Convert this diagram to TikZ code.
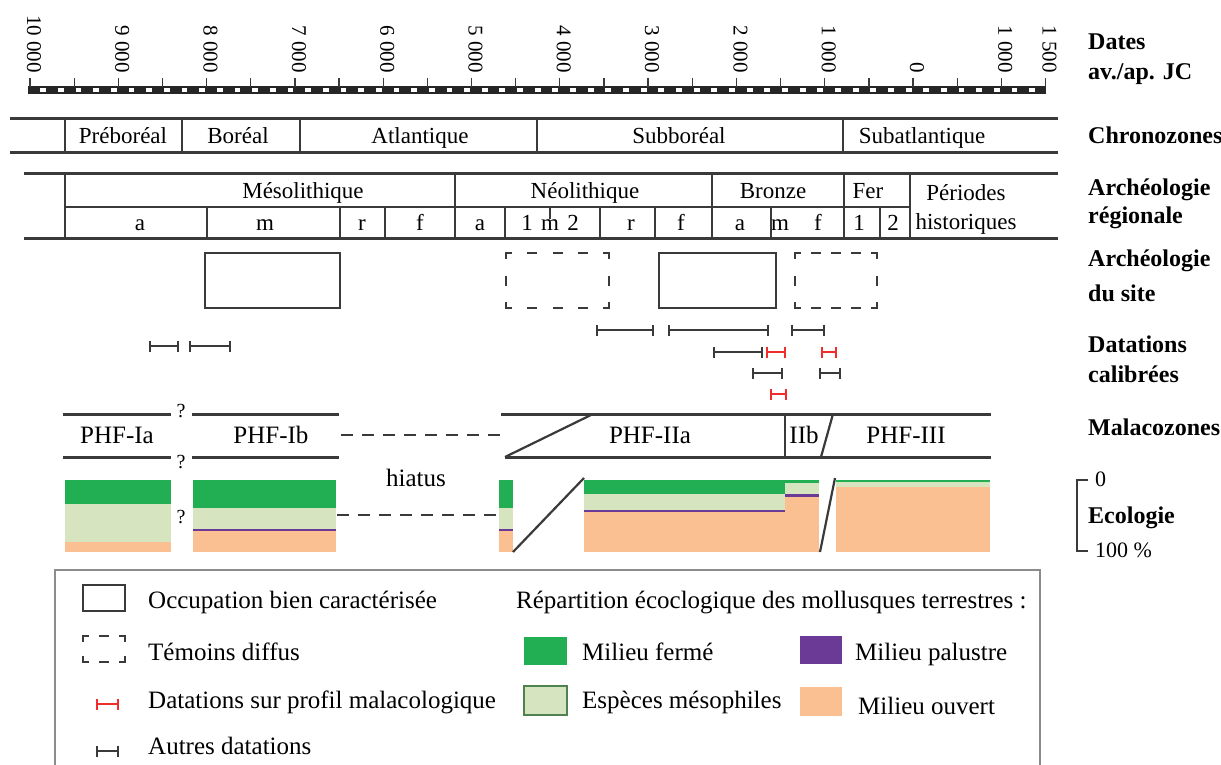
\documentclass[tikz,border=0pt]{standalone}
\usepackage{fontspec}
\setmainfont{Liberation Serif}
\definecolor{ln}{RGB}{58,58,58}
\definecolor{gF}{RGB}{34,174,82}
\definecolor{gL}{RGB}{214,229,192}
\definecolor{gB}{RGB}{80,130,80}
\definecolor{pP}{RGB}{106,58,150}
\definecolor{oO}{RGB}{250,192,145}
\definecolor{rD}{RGB}{240,45,45}
\tikzset{
  tl/.style={draw=ln, line width=3pt},
  vl/.style={draw=ln, line width=2.2pt},
  thinl/.style={draw=ln, line width=1.1pt},
  boxline/.style={draw=ln, line width=2.9pt},
  dashl/.style={draw=ln, line width=2.8pt, dash pattern=on 12pt off 9pt},
  rowtxt/.style={font=\fontsize{23}{23}\selectfont, anchor=base, inner sep=0pt},
  maltxt/.style={font=\fontsize{25}{25}\selectfont, anchor=base, inner sep=0pt},
  legtxt/.style={font=\fontsize{25}{25}\selectfont, anchor=base west, inner sep=0pt},
  lab/.style={font=\bfseries\fontsize{24}{24}\selectfont, anchor=base west, inner sep=0pt},
  scl/.style={font=\fontsize{21}{21}\selectfont, rotate=-90, anchor=east, inner sep=0pt},
  qm/.style={font=\fontsize{20}{20}\selectfont, anchor=base, inner sep=0pt},
  datk/.style={draw=ln, line width=2.8pt},
  datr/.style={draw=rD, line width=2.8pt},
}
\newcommand\datbar[4]{%
  \draw[#4] (#1,#3) -- (#2,#3);
  \draw[#4] (#1,#3-5.5) -- (#1,#3+5.5);
  \draw[#4] (#2,#3-5.5) -- (#2,#3+5.5);}
\newcommand\dbox[6]{%
  \draw[boxline] (#1,#2+6) -- (#1,#2) -- (#1+6,#2);
  \draw[boxline] (#3-6,#2) -- (#3,#2) -- (#3,#2+6);
  \draw[boxline] (#3,#4-6) -- (#3,#4) -- (#3-6,#4);
  \draw[boxline] (#1+6,#4) -- (#1,#4) -- (#1,#4-6);
  \pgfmathsetmacro\gh{(#3-#1-12-#5*10)/(#5+1)}
  \foreach \i in {1,...,#5}{%
    \pgfmathsetmacro\xa{#1+6+\i*\gh+(\i-1)*10}
    \draw[boxline] (\xa,#2) -- (\xa+10,#2);
    \draw[boxline] (\xa,#4) -- (\xa+10,#4);}
  \ifnum#6>0
  \pgfmathsetmacro\gv{(#4-#2-12-#6*10)/(#6+1)}
  \foreach \i in {1,...,#6}{%
    \pgfmathsetmacro\ya{#2+6+\i*\gv+(\i-1)*10}
    \draw[boxline] (#1,\ya) -- (#1,\ya+10);
    \draw[boxline] (#3,\ya) -- (#3,\ya+10);}
  \fi}
\begin{document}
\begin{tikzpicture}[x=1pt,y=-1pt]
\useasboundingbox (0,0) rectangle (1221,764);
\clip (0,0) rectangle (1221,764);
\fill[white] (0,0) rectangle (1221,764);

% ---------- time scale ----------
\fill[black!85] (28,86) rectangle (1046,94);
\foreach \i in {1,3,...,113}{
  \fill[white] ({30+8.83*\i+1.5},88.2) rectangle ({30+8.83*(\i+1)-1.5},91.8);}
\foreach \k in {0,...,23}{
  \draw[ln, line width=1.3pt] ({30+44.15*\k},78) -- ({30+44.15*\k},87);}
\foreach \k/\t [count=\n] in {0/10 000,2/9 000,4/8 000,6/7 000,8/6 000,10/5 000,12/4 000,14/3 000,16/2 000,18/1 000,20/0,22/1 000,23/1 500}{
  \node[scl] (s\n) at ({34+44.15*\k},73) {\t};}

% ---------- chronozones ----------
\draw[tl] (10,118) -- (1058,118);
\draw[tl] (10,152) -- (1058,152);
\foreach \x in {65,182,300,537,843}{\draw[vl] (\x,118) -- (\x,152);}
\node[rowtxt] (cz1) at (123,143) {Préboréal};
\node[rowtxt] (cz2) at (238,143) {Boréal};
\node[rowtxt] (cz3) at (420,143) {Atlantique};
\node[rowtxt] (cz4) at (679,143) {Subboréal};
\node[rowtxt] (cz5) at (922,143) {Subatlantique};

% ---------- archeologie regionale ----------
\draw[tl] (24,173) -- (1058,173);
\draw[tl] (24,238) -- (1058,238);
\draw[vl] (65,207) -- (910,207);
\foreach \x in {65,455,712,844,910}{\draw[vl] (\x,173) -- (\x,238);}
\foreach \x in {207,340,505,600,655,771,880}{\draw[vl] (\x,207) -- (\x,238);}
\draw[thinl] (385,207) -- (385,238);
\draw[thinl] (550,207) -- (550,219);
\node[rowtxt] (ar1) at (303,198) {Mésolithique};
\node[rowtxt] (ar2) at (585,198) {Néolithique};
\node[rowtxt] (ar3) at (773,198) {Bronze};
\node[rowtxt] (ar4) at (868,198) {Fer};
\node[rowtxt] (ar5) at (966,200) {Périodes};
\node[rowtxt] (ar6) at (966,229) {historiques};
\node[rowtxt] (b1) at (140,230) {a};
\node[rowtxt] (b2) at (265,230) {m};
\node[rowtxt] (b3) at (362,230) {r};
\node[rowtxt] (b4) at (420,230) {f};
\node[rowtxt] (b5) at (480,230) {a};
\node[rowtxt] (b6) at (527,230) {1};
\node[rowtxt] (b7) at (550,230) {m};
\node[rowtxt] (b8) at (573,230) {2};
\node[rowtxt] (b9) at (631,230) {r};
\node[rowtxt] (b10) at (681,230) {f};
\node[rowtxt] (b11) at (740,230) {a};
\node[rowtxt] (b12) at (780,230) {m};
\node[rowtxt] (b13) at (818,230) {f};
\node[rowtxt] (b14) at (859,230) {1};
\node[rowtxt] (b15) at (893,230) {2};

% ---------- archeologie du site ----------
\draw[boxline] (205,253) rectangle (340,308);
\draw[boxline] (659,253) rectangle (776,308);
\dbox{506}{253}{609}{308}{3}{1}
\dbox{795}{253}{877}{308}{3}{1}

% ---------- datations ----------
\datbar{150}{178}{346}{datk}
\datbar{190}{230}{346}{datk}
\datbar{597}{653}{330}{datk}
\datbar{669}{768}{330}{datk}
\datbar{792}{824}{330}{datk}
\datbar{714}{762}{352}{datk}
\datbar{767}{785}{352}{datr}
\datbar{822}{836}{352}{datr}
\datbar{753}{782}{373}{datk}
\datbar{820}{840}{373}{datk}
\datbar{771}{786}{394}{datr}

% ---------- malacozones ----------
\draw[tl] (63,414) -- (171,414);
\draw[tl] (192,414) -- (339,414);
\draw[tl] (63,457) -- (171,457);
\draw[tl] (192,457) -- (339,457);
\node[qm] (q1) at (181,417) {?};
\node[qm] (q2) at (181,468) {?};
\node[qm] (q3) at (181,523) {?};
\draw[dashl] (341,435) -- (500,435);
\draw[tl] (501,414) -- (991,414);
\draw[tl] (505,457) -- (991,457);
\draw[vl] (505,457) -- (593,414);
\draw[vl] (785,414) -- (785,457);
\draw[vl] (833,414) -- (821,457);
\node[maltxt] (m1) at (117,443) {PHF-Ia};
\node[maltxt] (m2) at (271,443) {PHF-Ib};
\node[maltxt] (m3) at (650,443) {PHF-IIa};
\node[maltxt] (m4) at (804,443) {IIb};
\node[maltxt] (m5) at (906,443) {PHF-III};

% ---------- ecologie ----------
\fill[gF] (65,480) rectangle (171,504);
\fill[gL] (65,504) rectangle (171,542);
\fill[oO] (65,542) rectangle (171,552);
\fill[gF] (193,480) rectangle (336,508);
\fill[gL] (193,508) rectangle (336,528.5);
\fill[pP] (193,528.5) rectangle (336,530.5);
\fill[oO] (193,530.5) rectangle (336,552);
\fill[gF] (499,480) rectangle (513,508);
\fill[gL] (499,508) rectangle (513,528.5);
\fill[pP] (499,528.5) rectangle (513,530.5);
\fill[oO] (499,530.5) rectangle (513,552);
\fill[gF] (584,480) rectangle (785,494);
\fill[gL] (584,494) rectangle (785,509.5);
\fill[pP] (584,509.5) rectangle (785,512);
\fill[oO] (584,512) rectangle (785,552);
\fill[gF] (785,480) rectangle (819,482.5);
\fill[gL] (785,482.5) rectangle (819,494);
\fill[pP] (785,494) rectangle (819,496.5);
\fill[oO] (785,496.5) rectangle (819,552);
\fill[gF] (836,480) rectangle (990,482);
\fill[gL] (836,482) rectangle (990,487);
\fill[oO] (836,487) rectangle (990,552);
\draw[vl] (513,552) -- (584,478);
\draw[vl] (820,552) -- (835,478);
\draw[dashl] (337,515) -- (497,515);
\node[maltxt] (hi) at (416,486) {hiatus};

% ---------- right labels ----------
\node[lab] (l1) at (1088,49) {Dates};
\node[lab] (l2) at (1088,79) {av./ap. JC};
\node[lab] (l3) at (1088,143) {Chronozones};
\node[lab] (l4) at (1088,195) {Archéologie};
\node[lab] (l5) at (1088,223) {régionale};
\node[lab] (l6) at (1088,266) {Archéologie};
\node[lab] (l7) at (1088,301) {du site};
\node[lab] (l8) at (1088,352) {Datations};
\node[lab] (l9) at (1088,382) {calibrées};
\node[lab] (l10) at (1088,435) {Malacozones};
\node[lab] (l11) at (1088,523) {Ecologie};
\draw[ln, line width=2pt] (1088,480) -- (1077,480) -- (1077,551) -- (1088,551);
\node[legtxt, font=\fontsize{22}{22}\selectfont] (z0) at (1095,486) {0};
\node[legtxt, font=\fontsize{22}{22}\selectfont] (z100) at (1095,557) {100 \%};

% ---------- legend ----------
\draw[black!45, line width=1.2pt] (55,570) rectangle (1040,800);
\draw[boxline] (83,585) rectangle (125,611);
\dbox{83}{636}{125}{662}{1}{0}
\datbar{97}{118}{704}{datr}
\datbar{97}{118}{751}{datk}
\node[legtxt] (t1) at (148,608) {Occupation bien caractérisée};
\node[legtxt] (t2) at (148,660) {Témoins diffus};
\node[legtxt] (t3) at (148,708) {Datations sur profil malacologique};
\node[legtxt] (t4) at (148,754) {Autres datations};
\node[legtxt] (t5) at (516,608) {Répartition écoclogique des mollusques terrestres :};
\fill[gF] (524,637) rectangle (567,665);
\draw[fill=gL, draw=gB, line width=1.5pt] (524,686) rectangle (567,715);
\fill[pP] (800,636) rectangle (842,664);
\fill[oO] (800,687) rectangle (842,716);
\node[legtxt] (t6) at (582,660) {Milieu fermé};
\node[legtxt] (t7) at (582,708) {Espèces mésophiles};
\node[legtxt] (t8) at (855,660) {Milieu palustre};
\node[legtxt] (t9) at (858,714) {Milieu ouvert};
\end{tikzpicture}
\end{document}
